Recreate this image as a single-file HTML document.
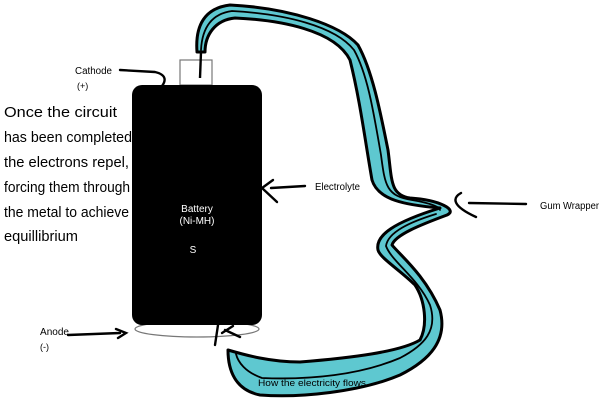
<!DOCTYPE html>
<html><head><style>
html,body{margin:0;padding:0;background:#fff;}
svg{display:block;font-family:"Liberation Sans",sans-serif;}
</style></head><body>
<svg width="600" height="400" viewBox="0 0 600 400" xmlns="http://www.w3.org/2000/svg">
<rect width="600" height="400" fill="#fff"/>
<rect x="180" y="60" width="32" height="25" fill="#fff" stroke="#777" stroke-width="1.2"/>
<ellipse cx="197" cy="329" rx="62" ry="8" fill="#fff" stroke="#777" stroke-width="1.2"/>
<rect x="132" y="85" width="130" height="240" rx="10" fill="#000"/>
<text x="197" y="212" fill="#fff" font-size="10" text-anchor="middle">Battery</text>
<text x="197" y="224" fill="#fff" font-size="10" text-anchor="middle">(Ni-MH)</text>
<text x="193" y="253" fill="#fff" font-size="10" text-anchor="middle">S</text>
<path d="M197,52 C195,25 205,8 230,5 C290,8 340,25 358,45 C372,70 380,110 388,150 C392,180 390,195 410,198 C440,200 458,210 447,215 C420,225 395,235 392,245 C400,255 425,275 440,310 C448,340 430,360 400,375 C360,392 300,398 260,395 C235,390 228,370 228,350 C245,355 270,362 300,362 C350,358 400,352 420,340 C428,325 425,300 415,285 C400,270 380,258 378,250 C375,235 395,222 440,208 C405,205 378,200 372,180 C365,140 360,100 350,60 C335,30 280,20 235,18 C215,20 205,35 205,52 Z" fill="#5ec8d0" stroke="#000" stroke-width="3" stroke-linejoin="round"/>
<path d="M201,50 C202,30 210,14 232,11 C285,14 335,26 354,50 C368,75 374,115 381,155 C385,185 386,196 412,200 C430,203 440,207 440,210 M436,214 C410,222 388,232 386,246 C392,262 418,278 430,305 C438,330 425,345 400,358 C360,375 310,380 262,378 C245,372 238,362 236,354" fill="none" stroke="#000" stroke-width="1.8" stroke-linecap="round"/>
<path d="M201,52 L200,78" stroke="#000" stroke-width="2.4" fill="none"/>
<text x="258" y="386" font-size="9.5" fill="#000" textLength="108" lengthAdjust="spacingAndGlyphs">How the electricity flows</text>
<g fill="none" stroke="#000" stroke-width="2.4" stroke-linecap="round">
<path d="M120,70 L155,72 C168,75 165,82 162,86"/>
<path d="M271,188 L305,186 M273,180 L262,188 L277,202"/>
<path d="M469,203 L526,204 M461,193 C452,198 452,206 476,217"/>
<path d="M68,335 L120,333 M116,329 L126,333 L118,338"/>
<path d="M215,345 L218,325 M222,333 L233,326 M225,330 L240,337"/>
</g>
<g font-size="10" fill="#000">
<text x="75" y="74" textLength="37" lengthAdjust="spacingAndGlyphs">Cathode</text>
<text x="77" y="89" font-size="9">(+)</text>
<text x="315" y="190" textLength="45" lengthAdjust="spacingAndGlyphs">Electrolyte</text>
<text x="540" y="209" textLength="59" lengthAdjust="spacingAndGlyphs">Gum Wrapper</text>
<text x="40" y="335" textLength="29" lengthAdjust="spacingAndGlyphs">Anode</text>
<text x="40" y="350" font-size="9">(-)</text>
</g>
<g font-size="15" fill="#000">
<text x="4" y="117" textLength="113" lengthAdjust="spacingAndGlyphs">Once the circuit</text>
<text x="4" y="142" textLength="128" lengthAdjust="spacingAndGlyphs">has been completed</text>
<text x="4" y="167" textLength="125" lengthAdjust="spacingAndGlyphs">the electrons repel,</text>
<text x="4" y="192" textLength="126" lengthAdjust="spacingAndGlyphs">forcing them through</text>
<text x="4" y="217" textLength="125" lengthAdjust="spacingAndGlyphs">the metal to achieve</text>
<text x="4" y="241" textLength="74" lengthAdjust="spacingAndGlyphs">equillibrium</text>
</g>
</svg>
</body></html>
